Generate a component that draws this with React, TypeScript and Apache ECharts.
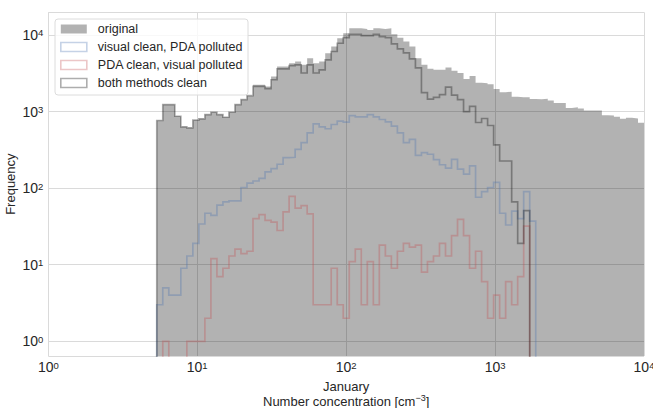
import React, { useEffect, useRef } from 'react';
import * as echarts from 'echarts';

// Histogram binning (log-spaced bins, as in the original figure)
const BIN_FIRST_EDGE = 5.35;
const BIN_LAST_EDGE = 10000;
const BIN_COUNT = 81;

// Counts per bin
const original = [
  764, 1233, 1233, 869, 632, 614, 771, 804, 914, 979,
  914, 843, 979, 1233, 1432, 1614, 2245, 2245, 2130, 2870,
  3870, 3870, 4285, 4500, 4080, 4980, 4285, 4500, 5780, 7050,
  9060, 10500, 12200, 12200, 11970, 11600, 12200, 11970, 12200, 10200,
  9230, 8190, 7050, 4980, 4080, 3610, 3510, 3510, 3750, 3405,
  3185, 2670, 2910, 2385, 2335, 2265, 1973, 1792, 1820, 1566,
  1543, 1543, 1462, 1453, 1465, 1390, 1297, 1297, 1117, 1137,
  1094, 1030, 1030, 1030, 895, 887, 853, 804, 828, 811,
  713,
];

const visualCleanPdaPolluted = [
  3, 5, 4, 4, 9, 13, 19, 34, 47, 44,
  60, 66, 68, 68, 102, 116, 124, 134, 163, 180,
  205, 250, 253, 321, 392, 528, 692, 632, 596, 678,
  748, 726, 887, 853, 853, 914, 853, 787, 735, 644,
  528, 392, 433, 268, 291, 277, 236, 202, 183, 238,
  177, 152, 195, 76, 90, 102, 119, 47, 33, 50,
  40, 90, 37, 0, 0, 0, 0, 0, 0, 0,
  0, 0, 0, 0, 0, 0, 0, 0, 0, 0,
  0,
];

const pdaCleanVisualPolluted = [
  0, 1, 0, 0, 0, 1, 1, 1, 2, 12,
  7, 9, 13, 16, 14, 15, 40, 45, 38, 36,
  28, 49, 78, 55, 59, 46, 3, 3, 3, 9,
  3, 2, 11, 16, 3, 11, 3, 18, 13, 9,
  15, 19, 17, 18, 8, 11, 13, 19, 13, 24,
  39, 24, 9, 15, 6, 2, 4, 2, 6, 3,
  7, 32, 0, 0, 0, 0, 0, 0, 0, 0,
  0, 0, 0, 0, 0, 0, 0, 0, 0, 0,
  0,
];

const bothMethodsClean = [
  764, 1233, 1233, 869, 632, 614, 771, 804, 914, 979,
  914, 843, 979, 1233, 1432, 1614, 2130, 2130, 1990, 2600,
  3610, 3610, 3990, 4080, 3185, 4080, 3185, 3510, 4730, 6080,
  7800, 9230, 10200, 10200, 9800, 9800, 10200, 9500, 9230, 7640,
  6580, 5830, 4870, 3725, 1766, 1453, 1528, 1665, 2080, 1637,
  1432, 1000, 1172, 720, 811, 658, 367, 226, 226, 66,
  19, 51, 0, 0, 0, 0, 0, 0, 0, 0,
  0, 0, 0, 0, 0, 0, 0, 0, 0, 0,
  0,
];

const SERIES_NAMES = [
  'original',
  'visual clean, PDA polluted',
  'PDA clean, visual polluted',
  'both methods clean',
];

const X_MIN = 1;
const X_MAX = 10000;
const Y_MIN = 0.643;
const Y_MAX = 19770;

const FONT = '"Liberation Sans", Arial, Helvetica, sans-serif';
const TEXT = '#262626';
const GRID = '#dadada';
const FILL = 'rgba(0,0,0,0.3)';
const BLUE = 'rgba(76,114,176,0.32)';
const RED = 'rgba(196,78,82,0.32)';
const DARK = 'rgba(0,0,0,0.32)';
const FLOOR = 1e-3;

const logStart = Math.log10(BIN_FIRST_EDGE);
const logStep = (Math.log10(BIN_LAST_EDGE) - logStart) / BIN_COUNT;
const edges = Array.from({ length: BIN_COUNT + 1 }, (_, i) => Math.pow(10, logStart + i * logStep));

function stepPoints(counts: number[], closed: boolean): number[][] {
  const pts: number[][] = [];
  if (closed) pts.push([edges[0], FLOOR]);
  counts.forEach((c, i) => {
    const v = c > 0 ? c : FLOOR;
    pts.push([edges[i], v], [edges[i + 1], v]);
  });
  if (closed) pts.push([edges[counts.length], FLOOR]);
  return pts;
}

function powLabel(v: number): string {
  const e = Math.log10(v);
  const r = Math.round(e);
  if (Math.abs(e - r) > 1e-6) return '';
  return `{b|10}{s|${r < 0 ? '−' + Math.abs(r) : r}}`;
}

const tickRich = {
  b: { fontSize: 14, lineHeight: 14, padding: [5, 0, 0, 0], verticalAlign: 'bottom', color: TEXT, fontFamily: FONT },
  s: { fontSize: 9.5, lineHeight: 10, verticalAlign: 'top', color: TEXT, fontFamily: FONT },
};

export default function App() {
  const ref = useRef<HTMLDivElement>(null);

  useEffect(() => {
    document.body.style.margin = '0';
    if (!ref.current) return;
    const chart = echarts.init(ref.current, undefined, { renderer: 'svg' });

    const outline = (name: string, counts: number[], color: string, z: number) => ({
      name,
      type: 'line',
      data: stepPoints(counts, true),
      showSymbol: false,
      symbol: 'none',
      clip: true,
      z,
      lineStyle: { color, width: 1.7, join: 'miter' },
      itemStyle: { color },
      emphasis: { disabled: true },
    });

    chart.setOption({
      animation: false,
      backgroundColor: '#ffffff',
      textStyle: { fontFamily: FONT, color: TEXT },
      grid: { left: 48.3, right: 9, top: 12.3, bottom: 52, containLabel: false, outerBoundsMode: 'none' },
      legend: {
        left: 55,
        top: 19,
        orient: 'vertical',
        padding: [3, 5, 5, 5],
        itemGap: 4,
        itemWidth: 26,
        itemHeight: 9,
        backgroundColor: 'rgba(255,255,255,0.8)',
        borderColor: '#dcdcdc',
        borderWidth: 1,
        borderRadius: 3,
        selectedMode: false,
        z: 10,
        textStyle: { fontSize: 12.5, lineHeight: 14, color: TEXT, fontFamily: FONT, padding: [0, 0, 0, 6] },
        data: [
          { name: SERIES_NAMES[0], icon: 'rect', itemStyle: { color: FILL, borderWidth: 0 } },
          { name: SERIES_NAMES[1], icon: 'rect', itemStyle: { color: '#ffffff', borderColor: BLUE, borderWidth: 1.6 } },
          { name: SERIES_NAMES[2], icon: 'rect', itemStyle: { color: '#ffffff', borderColor: RED, borderWidth: 1.6 } },
          { name: SERIES_NAMES[3], icon: 'rect', itemStyle: { color: '#ffffff', borderColor: DARK, borderWidth: 1.6 } },
        ],
      },
      xAxis: {
        type: 'log',
        logBase: 10,
        min: X_MIN,
        max: X_MAX,
        splitNumber: 4,
        axisLine: { show: false },
        axisTick: { show: false },
        minorTick: { show: false },
        splitLine: { show: true, lineStyle: { color: GRID, width: 1 } },
        axisLabel: { formatter: powLabel, rich: tickRich, margin: 4, showMinLabel: true, showMaxLabel: true, hideOverlap: false },
        name: '{a|January}\n{a|Number concentration [cm}{s|−3}{a|]}',
        nameLocation: 'middle',
        nameGap: 22,
        nameTextStyle: {
          rich: {
            a: { fontSize: 13, lineHeight: 15, verticalAlign: 'bottom', color: TEXT, fontFamily: FONT },
            s: { fontSize: 9, lineHeight: 9, verticalAlign: 'top', color: TEXT, fontFamily: FONT },
          },
        },
      },
      yAxis: {
        type: 'log',
        logBase: 10,
        min: Y_MIN,
        max: Y_MAX,
        splitNumber: 5,
        axisLine: { show: false },
        axisTick: { show: false },
        minorTick: { show: false },
        splitLine: { show: true, lineStyle: { color: GRID, width: 1 } },
        axisLabel: { formatter: powLabel, rich: tickRich, margin: 5, showMinLabel: true, showMaxLabel: true, hideOverlap: false },
        name: 'Frequency',
        nameLocation: 'middle',
        nameGap: 31,
        nameMoveOverlap: false,
        nameTextStyle: { fontSize: 13, color: TEXT, fontFamily: FONT },
      },
      series: [
        {
          name: SERIES_NAMES[0],
          type: 'line',
          data: stepPoints(original, false),
          showSymbol: false,
          symbol: 'none',
          clip: true,
          z: 1,
          lineStyle: { width: 0, opacity: 0 },
          itemStyle: { color: FILL },
          areaStyle: { color: FILL, origin: 'start', opacity: 1 },
          emphasis: { disabled: true },
        },
        outline(SERIES_NAMES[1], visualCleanPdaPolluted, BLUE, 3),
        outline(SERIES_NAMES[2], pdaCleanVisualPolluted, RED, 4),
        outline(SERIES_NAMES[3], bothMethodsClean, DARK, 5),
      ],
    });

    return () => chart.dispose();
  }, []);

  return <div ref={ref} style={{ width: 653, height: 408 }} />;
}
